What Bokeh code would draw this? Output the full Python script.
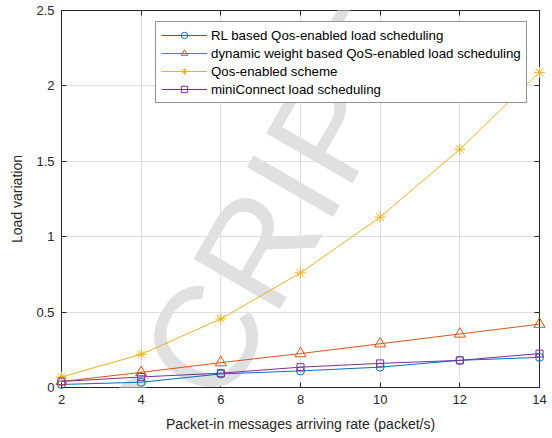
from bokeh.plotting import figure
from bokeh.models import Range1d, FixedTicker, LinearAxis, Legend, LegendItem, Label
from bokeh.embed import file_html
from bokeh.resources import INLINE

# Load variation versus packet-in message arriving rate
rates = [2, 4, 6, 8, 10, 12, 14]
rl_based = [0.02, 0.035, 0.09, 0.11, 0.135, 0.18, 0.20]
dynamic_weight = [0.04, 0.10, 0.165, 0.225, 0.29, 0.355, 0.42]
qos_scheme = [0.07, 0.22, 0.455, 0.76, 1.13, 1.58, 2.09]
mini_connect = [0.04, 0.07, 0.095, 0.135, 0.16, 0.18, 0.225]

series_labels = [
    "RL based Qos-enabled load scheduling",
    "dynamic weight based QoS-enabled load scheduling",
    "Qos-enabled scheme",
    "miniConnect load scheduling",
]

x_ticks = [2, 4, 6, 8, 10, 12, 14]
y_ticks = [0, 0.5, 1, 1.5, 2, 2.5]
y_tick_labels = ["0", "0.5", "1", "1.5", "2", "2.5"]

FONT = "Liberation Sans"
AX = "#262626"

p = figure(
    width=552, height=438,
    output_backend="svg", toolbar_location=None,
    x_range=Range1d(2, 14), y_range=Range1d(0, 2.5),
    min_border_left=61, min_border_right=13,
    min_border_top=10, min_border_bottom=51,
    background_fill_color="white", border_fill_color="white",
)
p.outline_line_color = AX
p.outline_line_width = 1

# grid
p.xgrid.ticker = FixedTicker(ticks=x_ticks)
p.ygrid.ticker = FixedTicker(ticks=y_ticks)
for g in (p.xgrid, p.ygrid):
    g.grid_line_color = "#dfdfdf"
    g.grid_line_width = 1

# main axes
xa = p.xaxis[0]
ya = p.yaxis[0]
xa.ticker = FixedTicker(ticks=x_ticks)
ya.ticker = FixedTicker(ticks=y_ticks)
ya.major_label_overrides = {t: s for t, s in zip(y_ticks, y_tick_labels)}
xa.axis_label = "Packet-in messages arriving rate (packet/s)"
ya.axis_label = "Load variation"
for ax in (xa, ya):
    ax.axis_line_color = AX
    ax.major_tick_line_color = AX
    ax.major_tick_in = 5
    ax.major_tick_out = 0
    ax.minor_tick_line_color = None
    ax.major_label_text_font = FONT
    ax.major_label_text_font_size = "13px"
    ax.major_label_text_color = AX
    ax.axis_label_text_font = FONT
    ax.axis_label_text_font_size = "14px"
    ax.axis_label_text_font_style = "normal"
    ax.axis_label_text_color = AX
xa.major_label_standoff = 7
xa.axis_label_standoff = 9
ya.major_label_standoff = 7
ya.axis_label_standoff = 8

# box ticks on top and right (no labels)
top = LinearAxis(ticker=FixedTicker(ticks=x_ticks))
right = LinearAxis(ticker=FixedTicker(ticks=y_ticks))
for ax in (top, right):
    ax.axis_line_color = AX
    ax.major_tick_line_color = AX
    ax.major_tick_in = 5
    ax.major_tick_out = 0
    ax.minor_tick_line_color = None
    ax.major_label_text_font_size = "1px"
    ax.major_label_text_color = None
    ax.major_label_standoff = 0
p.add_layout(top, "above")
p.add_layout(right, "right")

colors = ["#0072BD", "#D95319", "#EDB120", "#7E2F8E"]
markers = ["circle", "triangle", "asterisk", "square"]
sizes = [8, 11, 11, 7]
values = [rl_based, dynamic_weight, qos_scheme, mini_connect]

items = []
for label, ys, c, m, s in zip(series_labels, values, colors, markers, sizes):
    ln = p.line(rates, ys, line_color=c, line_width=1, level="overlay")
    sc = p.scatter(rates, ys, marker=m, size=s, line_color=c, line_width=1,
                   fill_color=None, level="overlay")
    items.append(LegendItem(label=label, renderers=[ln, sc]))

legend = Legend(
    items=items, location=(94, 284),
    border_line_color=AX, border_line_width=1,
    background_fill_color="white", background_fill_alpha=1.0,
    label_text_font=FONT, label_text_font_size="13.3px",
    label_text_color="#000000",
    padding=5, margin=0, spacing=2,
    label_height=16, glyph_height=16, glyph_width=46, label_standoff=4,
    level="underlay",
)
p.add_layout(legend, "center")

# diagonal watermark
mark = Label(
    x=7.058, y=0.989, text="SCRIPT",
    angle=60, angle_units="deg",
    text_align="center", text_baseline="middle",
    text_font=FONT, text_font_size="145px",
    text_color="#e0e0e0", level="annotation",
)
p.add_layout(mark)

open("out.html", "w").write(file_html(p, INLINE))
